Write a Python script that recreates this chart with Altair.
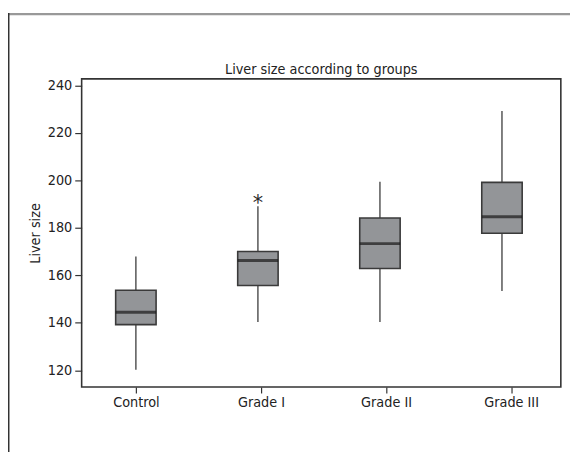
import altair as alt
import pandas as pd

groups = ["Control", "Grade I", "Grade II", "Grade III"]
whisker_low = [120.2, 140.3, 140.3, 153.4]
q1 = [139.2, 155.7, 162.8, 177.7]
median = [144.4, 166.2, 173.3, 184.6]
q3 = [153.7, 170.0, 184.1, 199.1]
whisker_high = [167.9, 189.0, 199.4, 229.2]

outlier_group = ["Grade I"]
outlier_value = [191.8]

title_text = "Liver size according to groups"

df = pd.DataFrame({
    "group": groups,
    "lo": whisker_low,
    "q1": q1,
    "med": median,
    "q3": q3,
    "hi": whisker_high,
})
out_df = pd.DataFrame({"group": outlier_group, "value": outlier_value})

FONT = "DejaVu Sans Condensed, Liberation Sans Narrow, Roboto, sans-serif"
W, H = 486, 312.6
BOXW = 41

box_scale = alt.Scale(type="point", domain=groups, range=[55, 426.3], padding=0)
axis_scale = alt.Scale(type="point", domain=groups, range=[55, 435.6], padding=0)

xb = alt.X("group:N", sort=groups, title=None, scale=box_scale, axis=None)

ys = alt.Y("lo:Q", title="Liver size",
           scale=alt.Scale(domain=[112.9, 242.7], nice=False, zero=False),
           axis=alt.Axis(values=[120, 140, 160, 180, 200, 220, 240],
                         labelFontSize=14.5, labelFont=FONT, labelColor="#222",
                         titleFont=FONT, titleFontSize=14.5, titleFontWeight="normal",
                         titleColor="#222", titlePadding=5,
                         tickColor="#333", tickSize=7, tickWidth=1.2,
                         labelPadding=3, domain=False, grid=False))

base = alt.Chart(df)

axis_layer = base.mark_point(opacity=0).encode(
    x=alt.X("group:N", sort=groups, title=None, scale=axis_scale,
            axis=alt.Axis(labelAngle=0, labelFontSize=14.5, labelFont=FONT,
                          labelColor="#222", tickColor="#333", tickSize=6,
                          tickWidth=1.2, labelPadding=3, domain=False, grid=False)),
    y=ys)

whiskers = base.mark_rule(color="#555555", strokeWidth=1.5).encode(
    x=xb, y="lo:Q", y2="hi:Q")

boxes = base.mark_bar(size=BOXW, color="#939598", stroke="#3a3a3a",
                      strokeWidth=1.6).encode(
    x=xb, y="q1:Q", y2="q3:Q")

medians = base.mark_tick(size=BOXW, thickness=3, color="#1a1a1a",
                         orient="horizontal").encode(
    x=xb, y="med:Q")

outliers = alt.Chart(out_df).mark_text(text="*", fontSize=21, font="DejaVu Sans",
                                       fill="#2a2a2a", color="#2a2a2a",
                                       baseline="middle", dy=4).encode(
    x=xb, y="value:Q")

single = alt.Chart(alt.Data(values=[{"t": title_text}]))
title_mark = single.mark_text(font=FONT, fontSize=14.5, color="#222",
                              baseline="alphabetic", align="center").encode(
    text="t:N", x=alt.value(W / 2), y=alt.value(-5))
frame_top = single.mark_rule(color="#999999", strokeWidth=2.2).encode(
    x=alt.value(-74.2), x2=alt.value(600), y=alt.value(-65.7))
frame_left = single.mark_rule(color="#333333", strokeWidth=2).encode(
    x=alt.value(-74.2), y=alt.value(-66.7), y2=alt.value(420))

chart = alt.layer(frame_top, frame_left, title_mark, axis_layer, whiskers, boxes,
                  medians, outliers).resolve_scale(x="independent").properties(
    width=W, height=H,
    background="white",
    autosize=alt.AutoSizeParams(type="none"),
    padding={"left": 74.7, "top": 68.7, "right": 9.3, "bottom": 62.7},
).configure_view(stroke="#333333", strokeWidth=1.6)

chart.save("out.html", embed_options={"renderer": "svg", "actions": False})
